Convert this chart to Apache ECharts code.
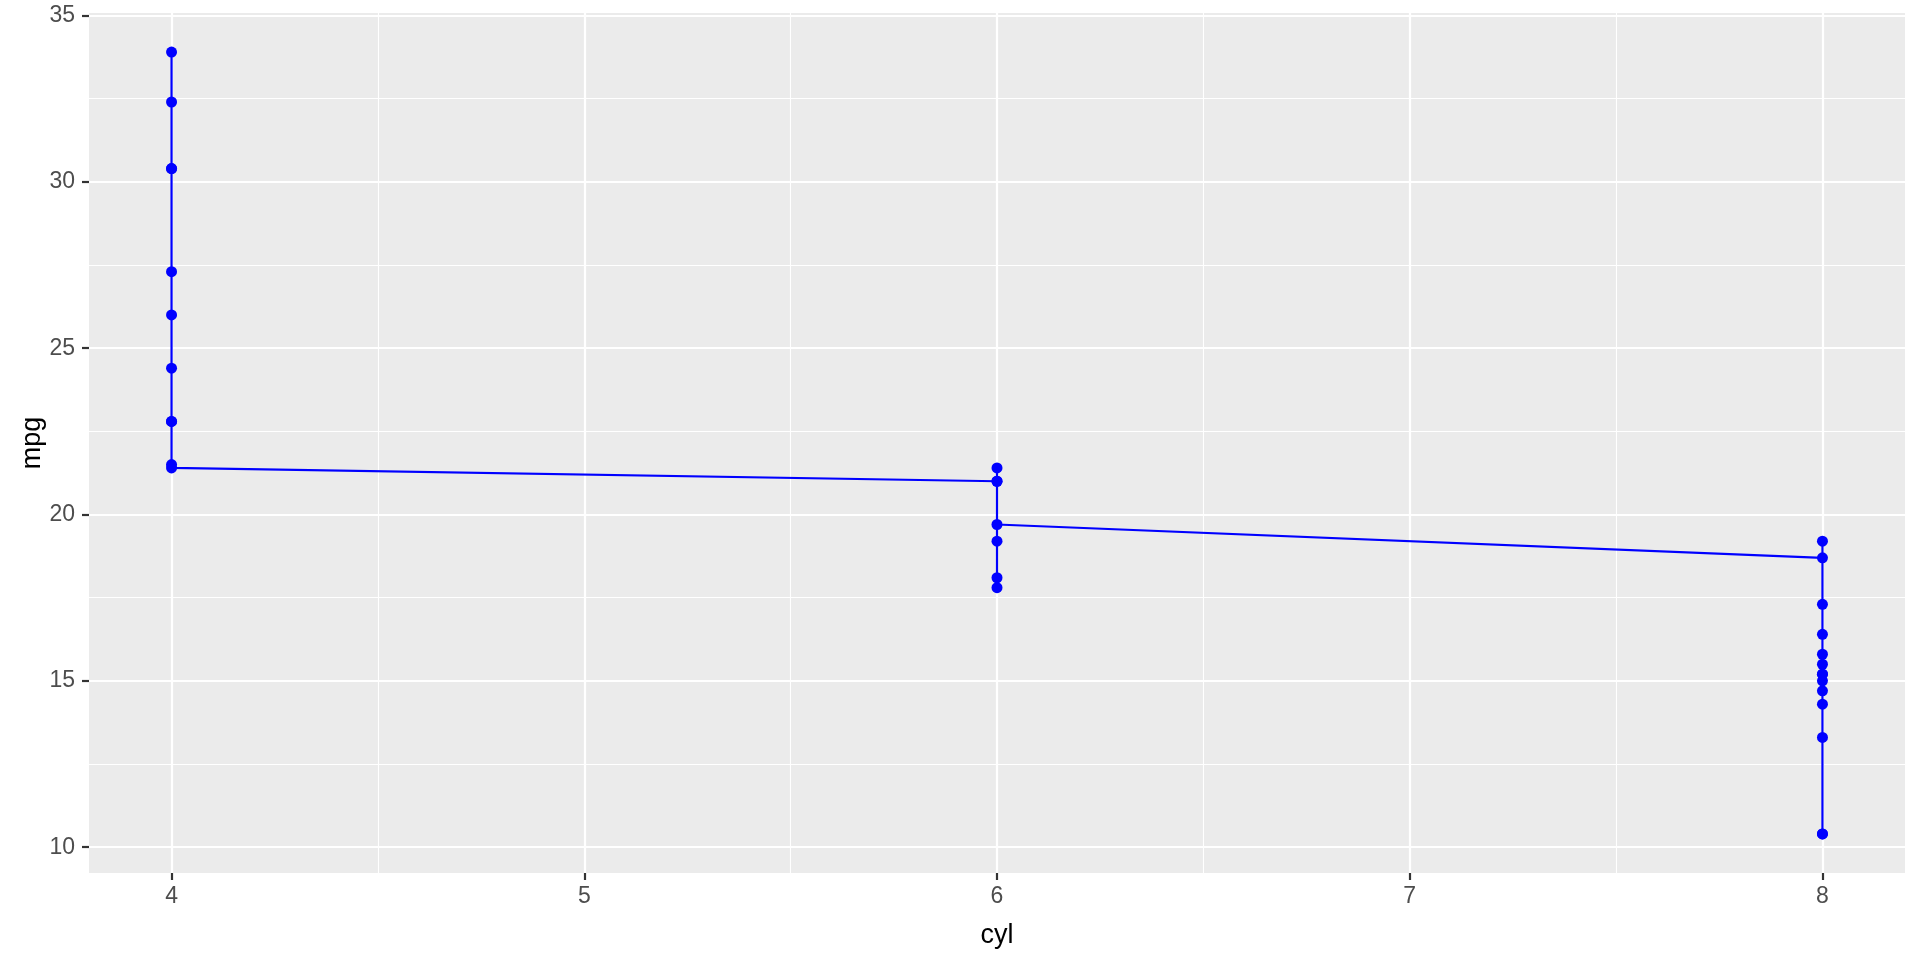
<!DOCTYPE html>
<html>
<head>
<meta charset="utf-8">
<script src="https://cdn.jsdelivr.net/npm/echarts@6/dist/echarts.min.js"></script>
<style>html,body{margin:0;padding:0;background:#fff}#c{width:1920px;height:960px}</style>
</head>
<body>
<div id="c"></div>
<script>
// mtcars, original row order
const cyl = [6,6,4,6,8,6,8,4,4,6,6,8,8,8,8,8,8,4,4,4,4,8,8,8,8,4,4,4,8,6,8,4];
const mpg = [21.0,21.0,22.8,21.4,18.7,18.1,14.3,24.4,22.8,19.2,17.8,16.4,17.3,15.2,10.4,10.4,14.7,32.4,30.4,33.9,21.5,15.5,15.2,13.3,19.2,27.3,26.0,30.4,15.8,19.7,15.0,21.4];
const xTicks = [4,5,6,7,8];
const xMinor = [4.5,5.5,6.5,7.5];
const yTicks = [10,15,20,25,30,35];
const yMinor = [12.5,17.5,22.5,27.5,32.5];

// geom_line: stable sort by x
const pts = cyl.map((c,i)=>[c, mpg[i]]).sort((a,b)=>a[0]-b[0]);

const labelFont = {fontFamily:'Liberation Sans, Arial, sans-serif', fontSize:23, color:'#4D4D4D'};
const gridMajor = {color:'#FFFFFF', width:2.2, type:'solid'};
const gridMinor = {color:'#FFFFFF', width:1.1, type:'solid'};

const markData = [];
xMinor.forEach(v=>markData.push({xAxis:v, lineStyle:gridMinor}));
yMinor.forEach(v=>markData.push({yAxis:v, lineStyle:gridMinor}));
xTicks.forEach(v=>markData.push({xAxis:v, lineStyle:gridMajor}));
yTicks.forEach(v=>markData.push({yAxis:v, lineStyle:gridMajor}));

const chart = echarts.init(document.getElementById('c'), null, {renderer:'canvas'});
chart.setOption({
  animation:false,
  backgroundColor:'#FFFFFF',
  grid:{left:89, right:15, top:13, bottom:87, show:true, backgroundColor:'#EBEBEB', borderWidth:0,
        containLabel:false, outerBoundsMode:'none'},
  xAxis:{
    type:'value', min:3.8, max:8.2,
    name:'cyl', nameLocation:'middle', nameGap:49,
    nameTextStyle:{fontFamily:'Liberation Sans, Arial, sans-serif', fontSize:27, color:'#000'},
    axisLine:{show:false},
    axisTick:{show:true, length:7, customValues:xTicks, lineStyle:{color:'#333333', width:2.2}},
    axisLabel:Object.assign({customValues:xTicks, margin:12}, labelFont),
    splitLine:{show:false}
  },
  yAxis:{
    type:'value', min:9.225, max:35.075,
    name:'mpg', nameLocation:'middle', nameGap:43, nameMoveOverlap:false,
    nameTextStyle:{fontFamily:'Liberation Sans, Arial, sans-serif', fontSize:27, color:'#000'},
    axisLine:{show:false},
    axisTick:{show:true, length:7, customValues:yTicks, lineStyle:{color:'#333333', width:2.2}},
    axisLabel:Object.assign({customValues:yTicks, margin:14}, labelFont),
    splitLine:{show:false}
  },
  series:[
    {
      type:'line', data:[], z:0, silent:true,
      markLine:{silent:true, z:0, symbol:['none','none'], label:{show:false}, animation:false,
        emphasis:{disabled:true}, data:markData}
    },
    {
      type:'line', data:pts, z:10,
      symbol:'circle', symbolSize:11, showSymbol:true,
      itemStyle:{color:'#0000FF', borderWidth:0},
      lineStyle:{color:'#0000FF', width:2.2},
      emphasis:{disabled:true}
    }
  ]
});
</script>
</body>
</html>
